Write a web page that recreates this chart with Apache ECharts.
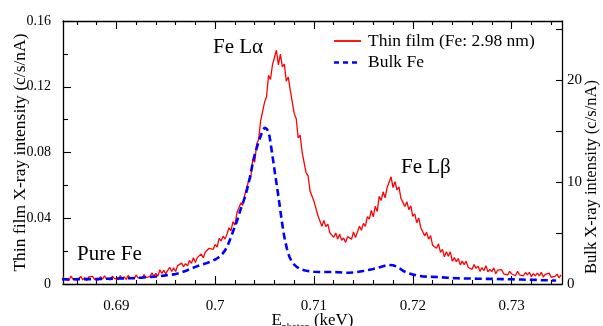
<!DOCTYPE html>
<html><head><meta charset="utf-8">
<script src="https://cdn.jsdelivr.net/npm/echarts@6/dist/echarts.min.js"></script>
<style>html,body{margin:0;padding:0;background:#fff}#c{width:603px;height:326px}</style>
</head><body><div id="c"></div>
<script>
// ---- data ----
const filmEnergy = [
0.6846,0.6848,0.6850,0.6852,0.6854,0.6856,0.6858,0.6860,0.6862,0.6864,
0.6866,0.6868,0.6870,0.6872,0.6874,0.6876,0.6878,0.6880,0.6882,0.6884,
0.6886,0.6888,0.6890,0.6892,0.6894,0.6896,0.6898,0.6900,0.6902,0.6904,
0.6906,0.6908,0.6910,0.6912,0.6914,0.6916,0.6918,0.6920,0.6922,0.6924,
0.6926,0.6928,0.6930,0.6932,0.6934,0.6936,0.6938,0.6940,0.6942,0.6944,
0.6946,0.6948,0.6950,0.6952,0.6954,0.6956,0.6958,0.6960,0.6962,0.6964,
0.6966,0.6968,0.6970,0.6972,0.6974,0.6976,0.6978,0.6980,0.6982,0.6984,
0.6986,0.6988,0.6990,0.6992,0.6994,0.6996,0.6998,0.7000,0.7002,0.7004,
0.7006,0.7008,0.7010,0.7012,0.7014,0.7016,0.7018,0.7020,0.7022,0.7024,
0.7026,0.7028,0.7030,0.7032,0.7034,0.7036,0.7038,0.7040,0.7042,0.7044,
0.7046,0.7048,0.7050,0.7052,0.7054,0.7056,0.7058,0.7060,0.7062,0.7064,
0.7066,0.7068,0.7070,0.7072,0.7074,0.7076,0.7078,0.7080,0.7082,0.7084,
0.7086,0.7088,0.7090,0.7092,0.7094,0.7096,0.7098,0.7100,0.7102,0.7104,
0.7106,0.7108,0.7110,0.7112,0.7114,0.7116,0.7118,0.7120,0.7122,0.7124,
0.7126,0.7128,0.7130,0.7132,0.7134,0.7136,0.7138,0.7140,0.7142,0.7144,
0.7146,0.7148,0.7150,0.7152,0.7154,0.7156,0.7158,0.7160,0.7162,0.7164,
0.7166,0.7168,0.7170,0.7172,0.7174,0.7176,0.7178,0.7180,0.7182,0.7184,
0.7186,0.7188,0.7190,0.7192,0.7194,0.7196,0.7198,0.7200,0.7202,0.7204,
0.7206,0.7208,0.7210,0.7212,0.7214,0.7216,0.7218,0.7220,0.7222,0.7224,
0.7226,0.7228,0.7230,0.7232,0.7234,0.7236,0.7238,0.7240,0.7242,0.7244,
0.7246,0.7248,0.7250,0.7252,0.7254,0.7256,0.7258,0.7260,0.7262,0.7264,
0.7266,0.7268,0.7270,0.7272,0.7274,0.7276,0.7278,0.7280,0.7282,0.7284,
0.7286,0.7288,0.7290,0.7292,0.7294,0.7296,0.7298,0.7300,0.7302,0.7304,
0.7306,0.7308,0.7310,0.7312,0.7314,0.7316,0.7318,0.7320,0.7322,0.7324,
0.7326,0.7328,0.7330,0.7332,0.7334,0.7336,0.7338,0.7340,0.7342,0.7344,
0.7346,0.7348,0.7350
];
const filmIntensity = [
0.0044,0.0026,0.0036,0.0021,0.0048,0.0030,0.0041,0.0023,0.0035,0.0046,
0.0025,0.0039,0.0020,0.0043,0.0032,0.0047,0.0027,0.0038,0.0024,0.0045,
0.0029,0.0050,0.0031,0.0042,0.0025,0.0048,0.0034,0.0040,0.0027,0.0051,
0.0030,0.0044,0.0028,0.0053,0.0036,0.0047,0.0031,0.0055,0.0038,0.0050,
0.0034,0.0057,0.0040,0.0052,0.0045,
0.0068,0.0048,0.0064,0.0046,0.0087,0.0065,0.0083,0.0063,0.0083,0.0102,
0.0076,0.0098,0.0076,0.0112,0.0102,0.0127,0.0105,0.0124,0.0110,0.0143,
0.0126,0.0160,0.0130,0.0162,0.0157,0.0183,0.0159,0.0195,0.0186,0.0217,
0.0229,0.0211,0.0240,0.0224,0.0278,0.0262,0.0291,0.0273,0.0304,0.0342,
0.0324,0.0379,0.0358,0.0433,0.0427,0.0493,0.0479,0.0543,0.0548,0.0631,
0.0645,0.0758,0.0741,0.0851,0.0881,0.0992,0.0980,0.1106,0.1141,0.1270,
0.1244,0.1334,0.1332,0.1422,
0.1333,0.1399,0.1321,0.1338,0.1234,0.1259,0.1180,0.1189,0.1036,0.1007,
0.0889,0.0905,0.0803,0.0792,0.0676,0.0660,0.0566,0.0577,0.0503,0.0501,
0.0416,0.0426,0.0351,0.0386,0.0349,0.0364,0.0312,0.0324,0.0284,0.0310,
0.0274,0.0303,0.0266,0.0280,0.0253,0.0288,
0.0294,0.0272,0.0317,0.0282,0.0317,0.0352,0.0327,0.0369,0.0350,0.0410,
0.0395,0.0448,0.0408,0.0473,0.0441,0.0533,0.0508,0.0561,0.0524,0.0586,
0.0585,0.0652,0.0587,0.0623,0.0572,0.0591,0.0521,0.0529,0.0471,0.0501,
0.0452,0.0475,0.0411,0.0427,0.0373,
0.0402,0.0344,0.0347,0.0293,0.0314,0.0273,0.0294,0.0236,0.0247,0.0218,
0.0244,0.0192,0.0211,0.0165,0.0196,0.0169,0.0196,0.0138,0.0161,0.0136,
0.0155,0.0116,0.0139,0.0118,0.0139,0.0102,0.0112,0.0089,0.0118,0.0095,
0.0109,0.0077,0.0100,0.0082,0.0111,0.0074,0.0089,0.0076,0.0098,0.0062,
0.0085,0.0074,0.0087,0.0062,0.0073,0.0055,0.0077,0.0061,0.0071,0.0050,
0.0077,0.0056,0.0064,0.0050,0.0070,0.0056,0.0071,0.0045,0.0063,0.0049,
0.0067,0.0049,0.0071,0.0042,0.0058,0.0046,0.0066,0.0041,0.0053,0.0046,
0.0060,0.0038,0.0055
];
const bulkEnergy = [
0.6845,0.6850,0.6855,0.6860,0.6865,0.6870,0.6875,0.6880,0.6885,0.6890,
0.6895,0.6900,0.6905,0.6910,0.6915,0.6920,0.6925,0.6930,0.6935,0.6940,
0.6945,0.6950,0.6955,0.6960,0.6965,0.6970,0.6975,0.6980,0.6985,0.6990,
0.6995,0.7000,0.70025,0.7005,0.70075,0.7010,0.70125,0.7015,0.70175,0.7020,
0.70225,0.7025,0.70275,0.7030,0.70325,0.7035,0.70375,0.7040,0.70425,0.7045,
0.70475,0.7050,0.70525,0.7055,0.70575,0.7060,0.70625,0.7065,0.70675,0.7070,
0.70725,0.7075,0.70775,0.7080,0.70825,0.7085,0.70875,0.7090,0.70925,0.7095,
0.70975,0.7100,0.7105,0.7110,0.7115,0.7120,0.7125,0.7130,0.7135,0.7140,
0.7145,0.7150,0.7155,0.7160,0.7165,0.7170,0.7175,0.7180,0.7185,0.7190,
0.7195,0.7200,0.7205,0.7210,0.7215,0.7220,0.7225,0.7230,0.7235,0.7240,
0.7245,0.7250,0.7255,0.7260,0.7265,0.7270,0.7275,0.7280,0.7285,0.7290,
0.7295,0.7300,0.7305,0.7310,0.7315,0.7320,0.7325,0.7330,0.7335,0.7340,
0.7345
];
const bulkIntensity = [
0.46,0.46,0.47,0.47,0.48,0.48,0.48,0.49,0.50,0.51,
0.53,0.54,0.55,0.56,0.57,0.59,0.62,0.66,0.70,0.74,
0.79,0.85,0.91,0.97,1.10,1.28,1.48,1.68,1.85,2.00,
2.18,2.40,2.55,2.72,2.98,3.30,3.75,4.35,5.00,5.65,
6.30,7.10,7.80,8.50,9.35,10.40,11.60,12.70,13.50,14.25,
14.90,15.35,15.20,14.50,12.90,11.20,9.60,7.90,6.10,4.60,
3.50,2.70,2.20,1.90,1.68,1.52,1.42,1.35,1.30,1.26,
1.23,1.20,1.18,1.17,1.17,1.17,1.15,1.12,1.10,1.13,
1.20,1.28,1.38,1.48,1.60,1.74,1.88,1.84,1.66,1.30,
1.08,0.94,0.80,0.75,0.72,0.70,0.68,0.65,0.61,0.58,
0.56,0.55,0.54,0.53,0.52,0.51,0.50,0.50,0.49,0.48,
0.47,0.46,0.45,0.44,0.42,0.41,0.40,0.38,0.37,0.35,
0.34
];
const xMajorTicks = [0.69, 0.70, 0.71, 0.72, 0.73];
const xMinorTicks = [0.686,0.688,0.692,0.694,0.696,0.698,0.702,0.704,0.706,0.708,
                     0.712,0.714,0.716,0.718,0.722,0.724,0.726,0.728,0.732,0.734];
const bulkTicks = [0, 5, 10, 15, 20, 25];
const bulkTickLabels = [0, 10, 20];
const seriesNames = ['Thin film (Fe: 2.98 nm)', 'Bulk Fe'];
const seriesColors = ['#ff0000', '#0000ff'];
const annotations = [
  {text: 'Fe L\u03b1', x: 213, y: 47},
  {text: 'Fe L\u03b2', x: 401, y: 167},
  {text: 'Pure Fe', x: 77, y: 254}
];

// ---- chart ----
const FONT = "'Liberation Serif','Times New Roman',serif";
const fmt = v => String(+(+v).toFixed(4));
const filmData = filmEnergy.map((e, i) => [e, filmIntensity[i]]);
const bulkData = bulkEnergy.map((e, i) => [e, bulkIntensity[i]]);
const X_MIN = 0.6846, X_MAX = 0.7351;
const lineSt = {color: '#000', width: 1.3};
const tickSt = {color: '#000', width: 1.1};
const BULK_DASH = [7, 4];

function xAx(pos, ticks, len, showLine, extra) {
  return Object.assign({
    type: 'value', position: pos, min: X_MIN, max: X_MAX,
    axisLine: {show: showLine, onZero: false, lineStyle: lineSt},
    axisTick: {show: true, inside: true, length: len, customValues: ticks, lineStyle: tickSt},
    axisLabel: {show: false},
    splitLine: {show: false}
  }, extra || {});
}

// legend drawn as line samples + text
const legendGraphics = [];
seriesNames.forEach((name, i) => {
  const y = 41 + i * 21.5;
  legendGraphics.push({
    type: 'line', z: 100,
    shape: {x1: 334, y1: y, x2: 361, y2: y},
    style: {stroke: seriesColors[i], lineWidth: i === 0 ? 1.8 : 2.6, lineDash: i === 0 ? null : [5, 4]}
  });
  legendGraphics.push({
    type: 'text', x: 368, y: y, z: 100,
    style: {text: name, fill: '#000', font: '17.5px ' + FONT, align: 'left', verticalAlign: 'middle'}
  });
});

const chart = echarts.init(document.getElementById('c'));
chart.setOption({
  animation: false,
  backgroundColor: '#fff',
  textStyle: {fontFamily: FONT},
  grid: {left: 63, right: 41, top: 21, bottom: 42, containLabel: false, outerBoundsMode: 'none'},
  xAxis: [
    xAx('bottom', xMajorTicks, 8, true, {
      axisLabel: {show: true, customValues: xMajorTicks, margin: 15, fontFamily: FONT, fontSize: 15, color: '#000', formatter: fmt},
      name: '{e|E}{s|photon}{e| (keV)}', nameLocation: 'middle', nameGap: 28, nameMoveOverlap: false,
      nameTextStyle: {rich: {
        e: {fontFamily: FONT, fontSize: 17, color: '#000'},
        s: {fontFamily: FONT, fontSize: 10, color: '#000', verticalAlign: 'bottom', padding: [0, 0, -3, 0]}
      }}
    }),
    xAx('bottom', xMinorTicks, 4, false),
    xAx('top', xMajorTicks, 8, true),
    xAx('top', xMinorTicks, 4, false)
  ],
  yAxis: [
    {
      type: 'value', position: 'left', min: 0, max: 0.16, interval: 0.04,
      axisLine: {show: true, onZero: false, lineStyle: lineSt},
      axisTick: {show: true, inside: true, length: 8, lineStyle: tickSt},
      minorTick: {show: true, splitNumber: 2, length: 5, lineStyle: tickSt},
      axisLabel: {margin: 12, fontFamily: FONT, fontSize: 14, color: '#000', formatter: fmt},
      splitLine: {show: false}, minorSplitLine: {show: false},
      name: 'Thin film X-ray intensity (c/s/nA)', nameLocation: 'middle', nameGap: 34, nameMoveOverlap: false,
      nameTextStyle: {fontFamily: FONT, fontSize: 17.5, color: '#000'}
    },
    {
      type: 'value', position: 'right', min: 0, max: 25.8,
      axisLine: {show: true, onZero: false, lineStyle: lineSt},
      axisTick: {show: true, inside: true, length: 6, customValues: bulkTicks, lineStyle: tickSt},
      axisLabel: {customValues: bulkTickLabels, margin: 5, fontFamily: FONT, fontSize: 15, color: '#000', formatter: fmt},
      splitLine: {show: false}
    }
  ],
  graphic: annotations.map(a => ({
    type: 'text', x: a.x, y: a.y, z: 100,
    style: {text: a.text, fill: '#000', font: '21px ' + FONT, align: 'left', verticalAlign: 'middle'}
  })).concat([{
    type: 'text', x: 592, y: 177, rotation: Math.PI / 2, z: 100,
    style: {text: 'Bulk X-ray intensity (c/s/nA)', fill: '#000', font: '16.5px ' + FONT, align: 'center', verticalAlign: 'middle'}
  }]).concat(legendGraphics),
  series: [
    {
      name: seriesNames[0], type: 'line', data: filmData, xAxisIndex: 0, yAxisIndex: 0,
      symbol: 'none', showSymbol: false,
      lineStyle: {color: seriesColors[0], width: 1.3}, itemStyle: {color: seriesColors[0]}
    },
    {
      name: seriesNames[1], type: 'line', data: bulkData, xAxisIndex: 0, yAxisIndex: 1,
      symbol: 'none', showSymbol: false,
      lineStyle: {color: seriesColors[1], width: 2.6, type: BULK_DASH}, itemStyle: {color: seriesColors[1]}
    }
  ]
});
</script>
</body></html>
